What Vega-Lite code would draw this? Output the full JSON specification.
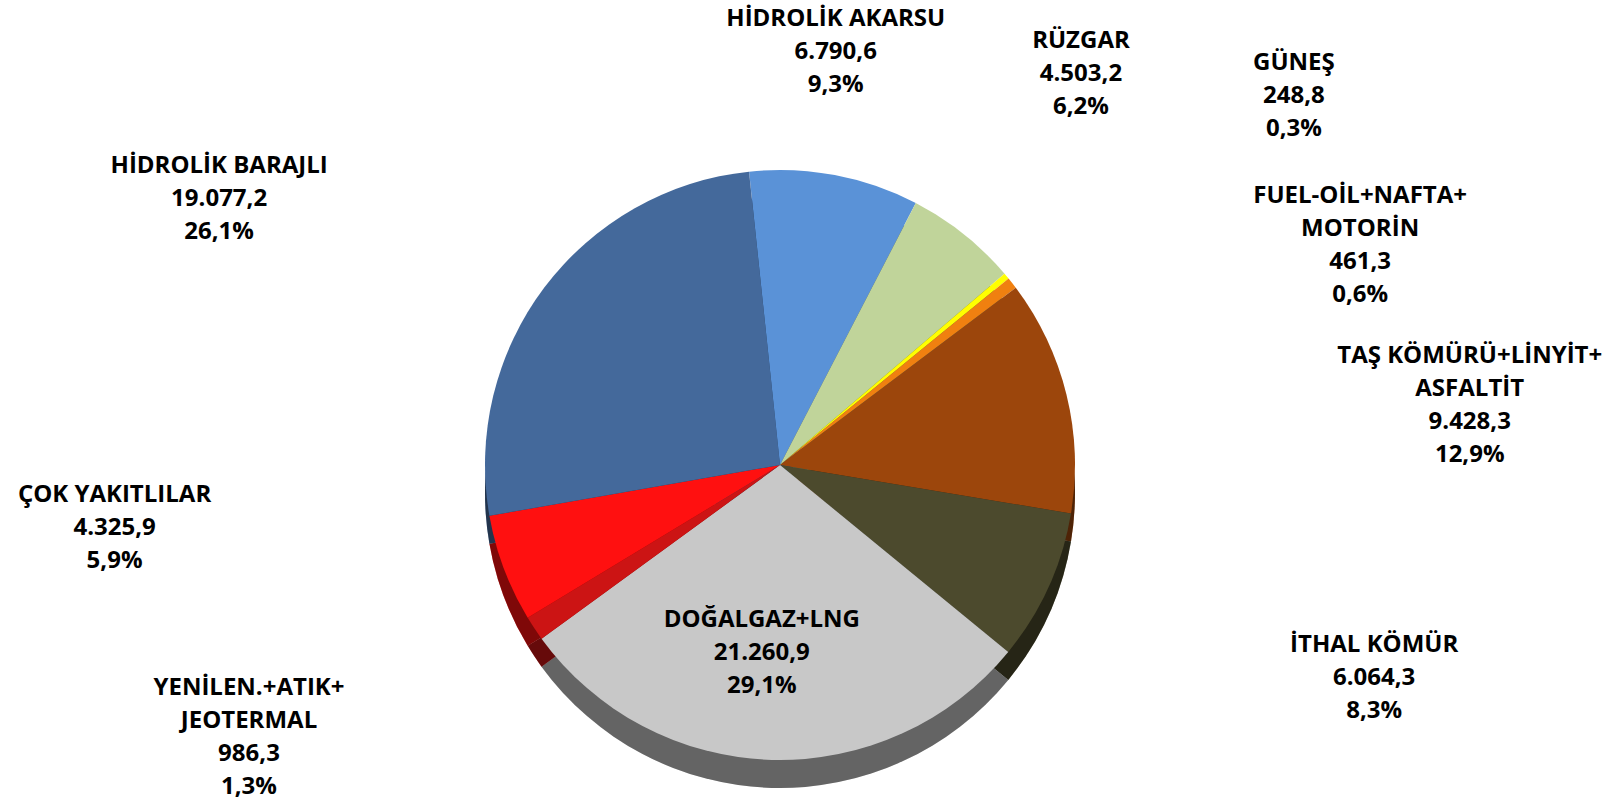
{
  "$schema": "https://vega.github.io/schema/vega-lite/v6.json",
  "width": 1560,
  "height": 684,
  "autosize": {"type": "none"},
  "padding": {"left": 0, "top": 123, "right": 63, "bottom": 0},
  "background": "white",
  "view": {"stroke": null},
  "data": {
    "values": [
      {"order": 1, "name": "HİDROLİK AKARSU", "value": 6790.6, "label": "HİDROLİK AKARSU\n6.790,6\n9,3%"},
      {"order": 2, "name": "RÜZGAR", "value": 4503.2, "label": "RÜZGAR\n4.503,2\n6,2%"},
      {"order": 3, "name": "GÜNEŞ", "value": 248.8, "label": "GÜNEŞ\n248,8\n0,3%"},
      {"order": 4, "name": "FUEL-OİL+NAFTA+MOTORİN", "value": 461.3, "label": "FUEL-OİL+NAFTA+\nMOTORİN\n461,3\n0,6%"},
      {"order": 5, "name": "TAŞ KÖMÜRÜ+LİNYİT+ASFALTİT", "value": 9428.3, "label": "TAŞ KÖMÜRÜ+LİNYİT+\nASFALTİT\n9.428,3\n12,9%"},
      {"order": 6, "name": "İTHAL KÖMÜR", "value": 6064.3, "label": "İTHAL KÖMÜR\n6.064,3\n8,3%"},
      {"order": 7, "name": "DOĞALGAZ+LNG", "value": 21260.9, "label": "DOĞALGAZ+LNG\n21.260,9\n29,1%"},
      {"order": 8, "name": "YENİLEN.+ATIK+JEOTERMAL", "value": 986.3, "label": "YENİLEN.+ATIK+\nJEOTERMAL\n986,3\n1,3%"},
      {"order": 9, "name": "ÇOK YAKITLILAR", "value": 4325.9, "label": "ÇOK YAKITLILAR\n4.325,9\n5,9%"},
      {"order": 10, "name": "HİDROLİK BARAJLI", "value": 19077.2, "label": "HİDROLİK BARAJLI\n19.077,2\n26,1%"}
    ]
  },
  "transform": [{"joinaggregate": [{"op": "sum", "field": "value", "as": "total"}]}],
  "encoding": {
    "theta": {"field": "value", "type": "quantitative", "stack": true, "scale": {"range": [-0.105, 6.178]}},
    "order": {"field": "order", "type": "quantitative"}
  },
  "layer": [
    {
      "mark": {"type": "arc", "outerRadius": 295, "yOffset": 28},
      "encoding": {
        "color": {
          "field": "name", "type": "nominal", "legend": null,
          "scale": {
            "domain": ["HİDROLİK AKARSU", "RÜZGAR", "GÜNEŞ", "FUEL-OİL+NAFTA+MOTORİN", "TAŞ KÖMÜRÜ+LİNYİT+ASFALTİT", "İTHAL KÖMÜR", "DOĞALGAZ+LNG", "YENİLEN.+ATIK+JEOTERMAL", "ÇOK YAKITLILAR", "HİDROLİK BARAJLI"],
            "range": ["#5A92D7", "#C0D49A", "#FFFF00", "#F08010", "#9C460C", "#4C4A2D", "#C8C8C8", "#CC1414", "#FF1010", "#44699B"]
          }
        }
      }
    },
    {
      "mark": {"type": "arc", "outerRadius": 295, "yOffset": 28, "fill": "black", "opacity": 0.5}
    },
    {
      "mark": {"type": "arc", "outerRadius": 295},
      "encoding": {
        "color": {"field": "name", "type": "nominal", "legend": null}
      }
    },
    {
      "mark": {
        "type": "text",
        "radius": {"expr": "420*[0.987,1.031,1.159,1,1.024,1.01,1,1.015,0.99,1.04][datum.order-1]"},
        "thetaOffset": {"expr": "[-0.1035,-0.228,-0.1655,0.1157,0.102,0.0997,0,-0.106,0.2068,0.0086][datum.order-1]"},
        "dx": {"expr": "260*[0.987,1.031,1.159,1,1.024,1.01,1,1.015,0.99,1.04][datum.order-1]*sin(-0.105 + PI*(datum.value_start+datum.value_end)/datum.total + [-0.1035,-0.228,-0.1655,0.1157,0.102,0.0997,0,-0.106,0.2068,0.0086][datum.order-1])"},
        "dy": {"expr": "-(length(split(datum.label,'\\n'))-1)*16.5"},
        "font": "Open Sans", "fontWeight": "bold", "fontSize": 24, "lineHeight": 33, "lineBreak": "\n",
        "align": "center", "baseline": "middle", "color": "black"
      },
      "encoding": {
        "text": {"field": "label", "type": "nominal", "condition": {"test": "datum.order === 7", "value": ""}}
      }
    },
    {
      "mark": {
        "type": "text", "radius": 189, "thetaOffset": 0.068, "dy": -33,
        "font": "Open Sans", "fontWeight": "bold", "fontSize": 24, "lineHeight": 33, "lineBreak": "\n",
        "align": "center", "baseline": "middle", "color": "black"
      },
      "encoding": {
        "text": {"condition": {"test": "datum.order === 7", "field": "label", "type": "nominal"}, "value": ""}
      }
    }
  ]
}
